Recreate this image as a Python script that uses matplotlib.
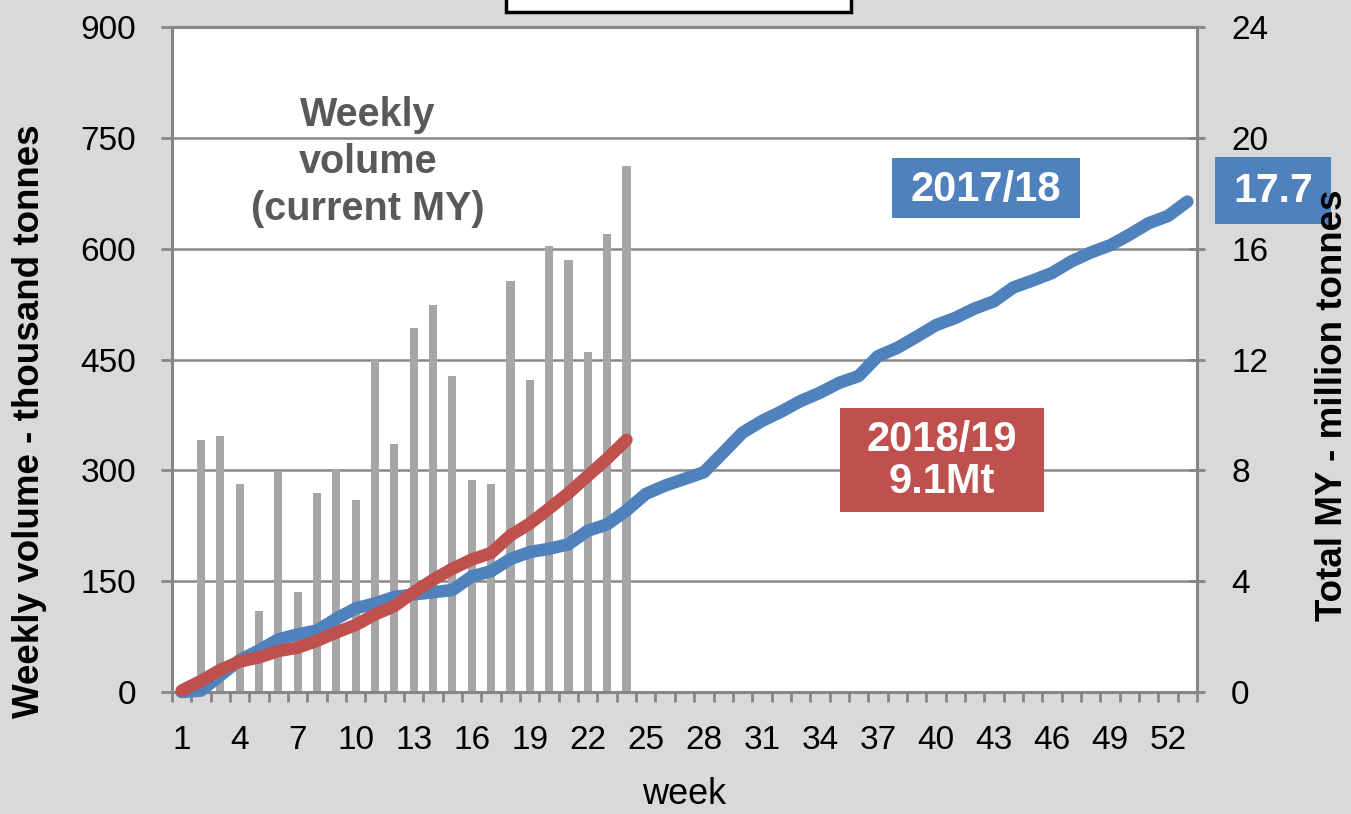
import numpy as np
import matplotlib
matplotlib.use("Agg")
import matplotlib.pyplot as plt
from matplotlib.patches import Rectangle

plt.rcParams["font.family"] = ["Liberation Sans", "DejaVu Sans"]

# weekly export volume for the current marketing year (thousand tonnes)
weekly_weeks = list(range(1, 25))
weekly_volume = [0, 341, 346, 281, 109, 299, 136, 270, 302, 260, 449, 335,
                 492, 524, 427, 287, 281, 556, 422, 604, 584, 460, 620, 712]

# cumulative totals (million tonnes)
weeks_1718 = list(range(1, 54))
total_1718 = [0.00, 0.05, 0.60, 1.15, 1.50, 1.90, 2.08, 2.22, 2.65, 3.02,
              3.20, 3.43, 3.52, 3.60, 3.68, 4.17, 4.36, 4.80, 5.05, 5.17,
              5.33, 5.82, 6.05, 6.55, 7.15, 7.45, 7.69, 7.93, 8.64, 9.36,
              9.78, 10.12, 10.50, 10.80, 11.16, 11.40, 12.12, 12.42, 12.82,
              13.24, 13.50, 13.84, 14.10, 14.60, 14.85, 15.12, 15.54, 15.86,
              16.12, 16.50, 16.92, 17.18, 17.70]
weeks_1819 = list(range(1, 25))
total_1819 = [0.05, 0.40, 0.80, 1.10, 1.25, 1.48, 1.60, 1.85, 2.15, 2.42,
              2.80, 3.10, 3.60, 4.05, 4.45, 4.78, 5.02, 5.65, 6.08, 6.62,
              7.18, 7.80, 8.42, 9.10]

week_labels = list(range(1, 54, 3))
left_ticks = list(range(0, 901, 150))
right_ticks = list(range(0, 25, 4))

W, H = 1351, 814
BLUE = "#4F81BD"
RED = "#C0504D"
BAR = "#A6A6A6"
AXCOL = "#868686"


def px(x, y):
    return x / W, 1 - y / H


def box(x0, y0, x1, y1, color, ec="none", lw=0, z=1):
    fig.add_artist(Rectangle(px(x0, y1), (x1 - x0) / W, (y1 - y0) / H,
                             transform=fig.transFigure, facecolor=color,
                             edgecolor=ec, linewidth=lw, zorder=z,
                             clip_on=False))


fig = plt.figure(figsize=(W / 100, H / 100), dpi=100, facecolor="#D9D9D9")
ax = fig.add_axes([172 / W, 1 - 692 / H, 1025 / W, 665 / H])
ax.set_facecolor("white")

ax.bar(weekly_weeks, weekly_volume, width=0.42, color=BAR, zorder=2)
ax.set_xlim(0.5, 53.5)
ax.set_ylim(0, 900)
ax.set_yticks(left_ticks)
ax.yaxis.grid(True, color="#888888", lw=1.8)
ax.set_axisbelow(True)
for s in ax.spines.values():
    s.set_color(AXCOL)
    s.set_linewidth(2.2)

ax.set_xticks(week_labels)
ax.set_xticks(np.arange(0.5, 54, 1), minor=True)
ax.tick_params(axis="x", which="major", length=0, labelsize=24, pad=24)
ax.tick_params(axis="x", which="minor", length=7, width=2, color=AXCOL,
               direction="out")
ax.tick_params(axis="y", direction="out", length=8, width=2, color=AXCOL,
               labelsize=24, pad=18)

ax2 = ax.twinx()
ax2.set_ylim(0, 24)
ax2.set_yticks(right_ticks)
ax2.tick_params(axis="y", direction="inout", length=11, width=2, color=AXCOL,
                labelsize=24, pad=19)
for s in ax2.spines.values():
    s.set_visible(False)

ax2.plot(weeks_1718, total_1718, color=BLUE, lw=9, solid_capstyle="round",
         solid_joinstyle="round", clip_on=False, zorder=3)
ax2.plot(weeks_1819, total_1819, color=RED, lw=9, solid_capstyle="round",
         solid_joinstyle="round", clip_on=False, zorder=4)

# in-plot annotation for the bars
fig.text(*px(368, 162), "Weekly\nvolume\n(current MY)", color="#595959",
         fontsize=28.5, fontweight="bold", ha="center", va="center",
         linespacing=1.3)

# series labels
box(892, 158, 1080, 218, BLUE, z=5)
fig.text(*px(986, 190), "2017/18", color="white", fontsize=30,
         fontweight="bold", ha="center", va="center", zorder=6)
box(840, 408, 1044, 512, RED, z=5)
fig.text(*px(942, 461), "2018/19\n9.1Mt", color="white", fontsize=30,
         fontweight="bold", ha="center", va="center", linespacing=1.05,
         zorder=6)
box(1215, 157, 1331, 224, BLUE, z=5)
fig.text(*px(1273, 191), "17.7", color="white", fontsize=29.5,
         fontweight="bold", ha="center", va="center", zorder=6)

# chart title frame (clipped at the top edge)
box(506, -20, 851, 12, "white", ec="black", lw=2.5, z=5)

# axis titles
fig.text(*px(30, 421), "Weekly volume - thousand tonnes", rotation=90,
         fontsize=26.5, fontweight="bold", ha="center", va="center")
fig.text(*px(1333, 405), "Total MY - million tonnes", rotation=90,
         fontsize=26.5, fontweight="bold", ha="center", va="center", zorder=7)
fig.text(*px(684, 795), "week", fontsize=26, ha="center", va="center")

fig.savefig("out.png", dpi=100, facecolor=fig.get_facecolor())
